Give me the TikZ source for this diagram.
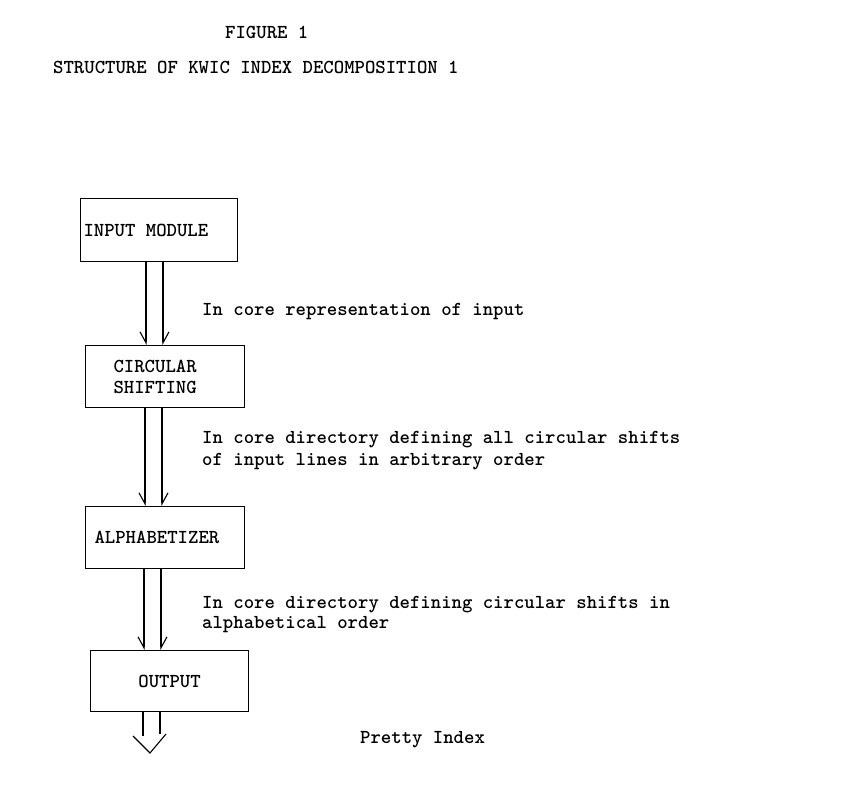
\documentclass[tikz,border=0pt]{standalone}
\usepackage{fontspec}
\usepackage{tikz}
\usetikzlibrary{arrows.meta,positioning,calc}

\begin{document}
\begin{tikzpicture}
[x=1pt,y=-1pt,
 modbox/.style={draw,rectangle,line width=1.1pt,anchor=north west,align=left,inner ysep=0pt,
   font=\ttfamily\bfseries\fontsize{19.8}{21}\selectfont,
   execute at begin node={\spaceskip=0.525em\relax}},
 note/.style={anchor=base west,inner sep=0pt,align=left,
   font=\ttfamily\bfseries\fontsize{19.8}{21}\selectfont,
   execute at begin node={\spaceskip=0.525em\relax}},
 ttl/.style={anchor=base west,inner sep=0pt,font=\ttfamily\bfseries\fontsize{19.8}{21}\selectfont},
 lbarb/.style={line width=1.1pt,-{Straight Barb[harpoon,swap,length=11pt,width=12pt]}},
 rbarb/.style={line width=1.1pt,-{Straight Barb[harpoon,length=11pt,width=12pt]}},
 pipe/.style={line width=1.1pt}]
\useasboundingbox (0,0) rectangle (841,793);
% titles
\node[ttl] (fig) at (225,38) {FIGURE 1};
\node[ttl] (head) at (53,73) {STRUCTURE OF KWIC INDEX DECOMPOSITION 1};
% modules
\node[modbox,minimum height=63,text width=151pt,inner xsep=3pt] (in) at (80,198) {INPUT MODULE};
\node[modbox,minimum height=62,text width=103pt,inner xsep=28pt] (cs) at (85,345) {CIRCULAR\\SHIFTING};
\node[modbox,minimum height=62,text width=141pt,inner xsep=9pt] (al) at (85,506) {ALPHABETIZER};
\node[modbox,minimum height=61,text width=152pt,inner xsep=3pt,align=center] (out) at (90,650) {OUTPUT};
% data between modules (base = last line)
\node[note] (d1) at (202,315) {In core representation of input};
\node[note,font=\ttfamily\bfseries\fontsize{19.8}{22}\selectfont] (d2) at (202,465) {In core directory defining all circular shifts\\of input lines in arbitrary order};
\node[note,font=\ttfamily\bfseries\fontsize{19.8}{20}\selectfont] (d3) at (202,628) {In core directory defining circular shifts in\\alphabetical order};
\node[note] (d4) at (360,743) {Pretty Index};
% arrows
\coordinate (p1l) at (146,0);
\coordinate (p1r) at (163,0);
\coordinate (p2l) at (145,0);
\coordinate (p2r) at (162,0);
\coordinate (p3l) at (144,0);
\coordinate (p3r) at (161,0);
\coordinate (p4l) at (143,0);
\coordinate (p4r) at (160,0);
\draw[lbarb] (in.south -| p1l) -- (cs.north -| p1l);
\draw[rbarb] (in.south -| p1r) -- (cs.north -| p1r);
\draw[lbarb] (cs.south -| p2l) -- (al.north -| p2l);
\draw[rbarb] (cs.south -| p2r) -- (al.north -| p2r);
\draw[lbarb] (al.south -| p3l) -- (out.north -| p3l);
\draw[rbarb] (al.south -| p3r) -- (out.north -| p3r);
\coordinate (tipL) at (133,736);
\coordinate (tip) at (150,753);
\coordinate (tipR) at (166,734);
\draw[pipe] (out.south -| p4l) -- (tipL -| p4l);
\draw[pipe] (out.south -| p4r) -- (tipR -| p4r);
\draw[pipe] (tipL) -- (tip) -- (tipR);
\end{tikzpicture}
\end{document}
